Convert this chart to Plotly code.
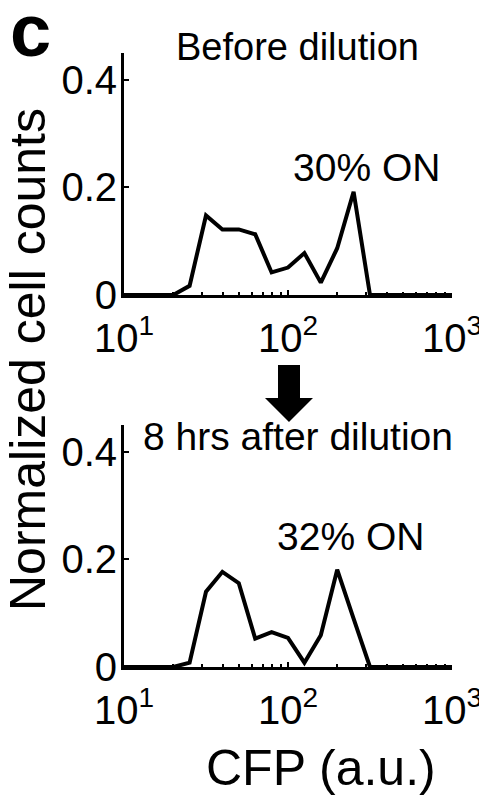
import plotly.graph_objects as go

# ---- data ----
bin_log10 = [1.0, 1.1, 1.2, 1.3, 1.4, 1.5, 1.6, 1.7, 1.8, 1.9, 2.0,
             2.1, 2.2, 2.3, 2.4, 2.5, 2.6, 2.7, 2.8, 2.9, 3.0]
before_counts = [0, 0, 0, 0, 0.017, 0.148, 0.122, 0.122, 0.113, 0.042, 0.051,
                 0.078, 0.023, 0.087, 0.192, 0, 0, 0, 0, 0, 0]
after_counts = [0, 0, 0, 0, 0.008, 0.140, 0.177, 0.156, 0.053, 0.065, 0.054,
                0.008, 0.059, 0.181, 0.090, 0, 0, 0, 0, 0, 0]
x_tickvals = [10, 100, 1000]
x_ticktext = ["10<sup>1</sup>", "10<sup>2</sup>", "10<sup>3</sup>"]
x_minor_vals = [20, 30, 40, 50, 60, 70, 80, 90, 200, 300, 400, 500, 600, 700, 800, 900]
y_tickvals = [0, 0.2, 0.4]
y_ticktext = ["0", "0.2", "0.4"]
titles = ["Before dilution", "8 hrs after dilution"]
on_labels = ["30% ON", "32% ON"]

OFF = 8  # page body margin offset
W, H = 487 - OFF, 800 - OFF
FONT = "Arial, Liberation Sans, sans-serif"

cfp = [10 ** v for v in bin_log10]

def px(x):
    return (x - OFF) / W

def py(y):
    return 1 - (y - OFF) / H

fig = go.Figure()
fig.add_trace(go.Scatter(x=cfp, y=before_counts, mode="lines",
                         line=dict(color="black", width=4), xaxis="x", yaxis="y",
                         showlegend=False, hoverinfo="skip"))
fig.add_trace(go.Scatter(x=cfp, y=after_counts, mode="lines",
                         line=dict(color="black", width=4), xaxis="x2", yaxis="y2",
                         showlegend=False, hoverinfo="skip"))

xdom = [px(124), px(452)]
ydom_top = [py(295), py(53.1)]
ydom_bot = [py(667), py(425.1)]

def xaxis_cfg(anchor):
    return dict(type="log", range=[1, 3], domain=xdom, anchor=anchor, automargin=False,
                showline=True, linewidth=3, linecolor="black", mirror=False,
                showgrid=False, zeroline=False,
                tickmode="array", tickvals=x_tickvals, ticktext=x_ticktext,
                ticks="inside", ticklen=5, tickwidth=2, tickcolor="black",
                tickfont=dict(family=FONT, size=40, color="black"),
                ticklabelstandoff=6,
                minor=dict(tickmode="array", tickvals=x_minor_vals, ticks="inside",
                           ticklen=3, tickwidth=1.5, tickcolor="black", showgrid=False))

def yaxis_cfg(anchor, dom):
    return dict(range=[0, 0.45], domain=dom, anchor=anchor, automargin=False,
                showline=True, linewidth=3, linecolor="black",
                showgrid=False, zeroline=False,
                tickmode="array", tickvals=y_tickvals, ticktext=y_ticktext,
                ticks="inside", ticklen=5, tickwidth=2, tickcolor="black",
                tickfont=dict(family=FONT, size=40, color="black"),
                ticklabelstandoff=-4)

fig.update_layout(
    width=W, height=H,
    margin=dict(l=0, r=0, t=0, b=0, autoexpand=False),
    paper_bgcolor="white", plot_bgcolor="white",
    xaxis=xaxis_cfg("y"), yaxis=yaxis_cfg("x", ydom_top),
    xaxis2=xaxis_cfg("y2"), yaxis2=yaxis_cfg("x2", ydom_bot),
    font=dict(family=FONT, color="black"),
)

ann = []
ann.append(dict(text="<b>c</b>", x=px(30), y=py(30), xref="paper", yref="paper",
                xanchor="center", yanchor="middle", showarrow=False,
                font=dict(family=FONT, size=74, color="black")))
ann.append(dict(text=titles[0], x=px(297.5), y=py(47.5), xref="paper", yref="paper",
                xanchor="center", yanchor="middle", showarrow=False,
                font=dict(family=FONT, size=38, color="black")))
ann.append(dict(text=titles[1], x=px(297.5), y=py(436.5), xref="paper", yref="paper",
                xanchor="center", yanchor="middle", showarrow=False,
                font=dict(family=FONT, size=39, color="black")))
ann.append(dict(text=on_labels[0], x=px(366.5), y=py(167.5), xref="paper", yref="paper",
                xanchor="center", yanchor="middle", showarrow=False,
                font=dict(family=FONT, size=39, color="black")))
ann.append(dict(text=on_labels[1], x=px(350), y=py(536.5), xref="paper", yref="paper",
                xanchor="center", yanchor="middle", showarrow=False,
                font=dict(family=FONT, size=39, color="black")))
ann.append(dict(text="Normalized cell counts", x=px(28), y=py(360), xref="paper", yref="paper",
                xanchor="center", yanchor="middle", showarrow=False, textangle=-90,
                font=dict(family=FONT, size=50, color="black")))
ann.append(dict(text="CFP (a.u.)", x=px(321), y=py(767.5), xref="paper", yref="paper",
                xanchor="center", yanchor="middle", showarrow=False,
                font=dict(family=FONT, size=50, color="black")))
fig.update_layout(annotations=ann)

# block arrow between panels (decoration)
arrow_pts = [(278, 365), (300, 365), (300, 398), (313, 398), (289, 422), (265, 398), (278, 398)]
path = "M " + " L ".join(f"{px(x):.5f},{py(y):.5f}" for x, y in arrow_pts) + " Z"
fig.add_shape(type="path", path=path, xref="paper", yref="paper",
              fillcolor="black", line=dict(color="black", width=0))

fig.write_html("out.html")
